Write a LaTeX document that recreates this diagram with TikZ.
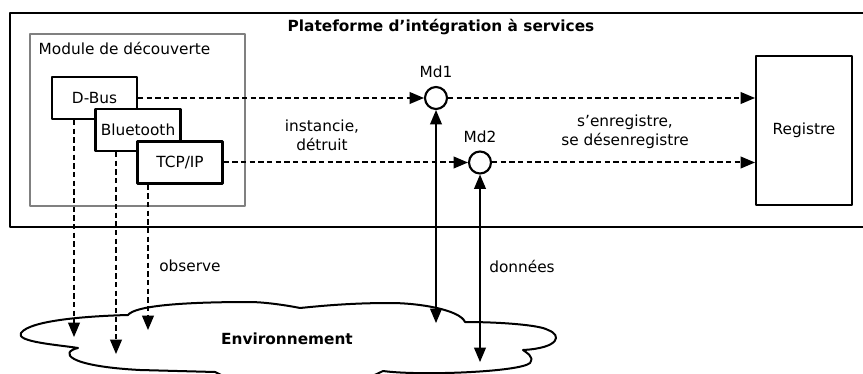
\documentclass[tikz,border=0pt]{standalone}
\usepackage{fontspec}
\setmainfont{DejaVu Sans}
\usetikzlibrary{arrows}

\begin{document}
\begin{tikzpicture}[line join=round,>=triangle 45,x=0.75pt,y=-0.75pt,
  every node/.style={font=\fontsize{11.5}{14.5}\selectfont},
  box/.style={draw,line width=1.6pt,fill=white,minimum width=63.75pt,minimum height=31.5pt,inner sep=0pt},
  md/.style={draw,circle,line width=1.6pt,fill=white,minimum size=16.5pt,inner sep=0pt},
  flow/.style={->,line width=1.5pt,dash pattern=on 4pt off 2.5pt},
  link/.style={<->,line width=1.5pt}]
\useasboundingbox (0,0) rectangle (863,374);
% plateforme
\draw[line width=1.7pt] (10,13) rectangle (872,227);
\node[font=\fontsize{11.5}{14.5}\selectfont\bfseries] (titre) at (441,27) {Plateforme d’intégration à services};
% module de decouverte
\draw[line width=1.7pt,color=gray] (30,34) rectangle (245,206);
\node[anchor=west] (module) at (34,48) {Module de découverte};
\node[box] (dbus) at (94.5,98) {D-Bus};
\node[box] (bluetooth) at (138,130) {Bluetooth};
\node[box] (tcpip) at (180,162.5) {TCP/IP};
% mediateurs et registre
\node[md,label={[label distance=2.5pt]above:Md1}] (md1) at (436,98) {};
\node[md,label={[label distance=2.5pt]above:Md2}] (md2) at (480,162.5) {};
\node[draw,line width=1.6pt,minimum width=72pt,minimum height=111.75pt] (registre) at (804,130.5) {Registre};
% environnement
\draw[line width=1.5pt] (128,315)
  .. controls (90,316) and (30,320) .. (21,333)
  .. controls (15,342) and (60,345) .. (78,348)
  .. controls (60,352) and (65,366) .. (140,370)
  -- (215,372)
  .. controls (225,376) and (230,385) .. (300,388)
  .. controls (350,388) and (375,375) .. (383,371)
  .. controls (420,376) and (520,372) .. (530,363)
  .. controls (535,356) and (525,352) .. (523,350)
  .. controls (560,348) and (562,335) .. (548,330)
  .. controls (540,325) and (500,322) .. (465,322)
  .. controls (460,310) and (420,303) .. (390,303)
  .. controls (350,303) and (320,306) .. (300,308)
  .. controls (280,304) and (260,302) .. (250,302)
  .. controls (180,302) and (135,306) .. (128,315)
  -- cycle;
\node[font=\fontsize{11.5}{14.5}\selectfont\bfseries] (env) at (287,339) {Environnement};
\coordinate (obs1) at (74,337);
\coordinate (obs2) at (116,354);
\coordinate (obs3) at (148,330);
\coordinate (env1) at (436,323);
\coordinate (env2) at (480,362);
% fleches
\draw[flow] (dbus) -- (md1);
\draw[flow] (md1) -- (md1 -| registre.west);
\draw[flow] (tcpip) -- (md2);
\draw[flow] (md2) -- (md2 -| registre.west);
\draw[flow] (dbus.south -| obs1) -- (obs1);
\draw[flow] (bluetooth.south -| obs2) -- (obs2);
\draw[flow] (tcpip.south -| obs3) -- (obs3);
\draw[link] (md1) -- (env1);
\draw[link] (md2) -- (env2);
% textes
\node[align=center] (instancie) at (322,135) {instancie,\\détruit};
\node[align=center] (enregistre) at (625,132) {s’enregistre,\\se désenregistre};
\node (observe) at (190,266) {observe};
\node (donnees) at (522,266) {données};
\end{tikzpicture}
\end{document}
